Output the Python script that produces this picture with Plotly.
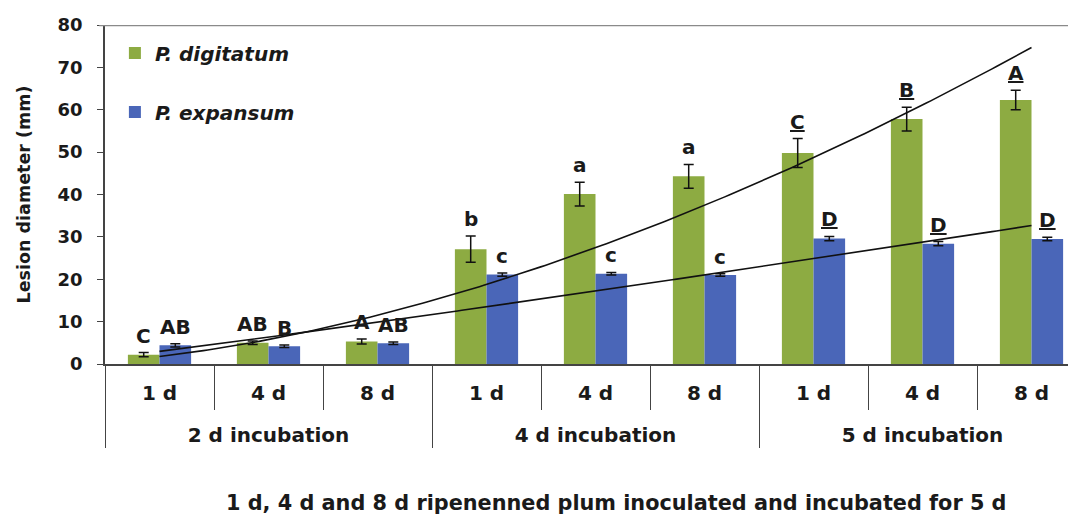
import numpy as np
import plotly.graph_objects as go

# ---- data ----
incubation = ["2 d incubation"] * 3 + ["4 d incubation"] * 3 + ["5 d incubation"] * 3
ripening = ["1 d", "4 d", "8 d"] * 3
digitatum = [2.2, 5.0, 5.3, 27.1, 40.1, 44.3, 49.8, 57.8, 62.3]
digitatum_err = [0.5, 0.4, 0.6, 3.1, 2.8, 2.8, 3.4, 2.8, 2.3]
expansum = [4.4, 4.2, 4.9, 21.1, 21.3, 21.0, 29.6, 28.4, 29.5]
expansum_err = [0.4, 0.3, 0.3, 0.4, 0.3, 0.3, 0.5, 0.5, 0.4]
digitatum_letters = ["C", "AB", "A", "b", "a", "a", "<u>C</u>", "<u>B</u>", "<u>A</u>"]
expansum_letters = ["AB", "B", "AB", "c", "c", "c", "<u>D</u>", "<u>D</u>", "<u>D</u>"]
y_ticks = [0, 10, 20, 30, 40, 50, 60, 70, 80]

GREEN = "#8DAB42"
BLUE = "#4A66B8"
FONT = "DejaVu Sans"
TXT = "#1a1a1a"
NBSP = "\u00a0"

n = len(digitatum)
idx = np.arange(1, n + 1)


def power_fit(x, y):
    b, ln_a = np.polyfit(np.log(x), np.log(y), 1)
    return np.exp(ln_a), b


fig = go.Figure()

err_style = dict(type="data", color="#111111", thickness=1.5, width=5, visible=True)

# level-1 labels get an empty second line so the level-2 labels sit lower
ripening_lbl = [r + "<br>" + NBSP for r in ripening]

fig.add_trace(go.Bar(
    x=[incubation, ripening_lbl], y=digitatum, name="P. digitatum",
    marker=dict(color=GREEN, line=dict(width=0)), legendgroup="g1",
    error_y=dict(array=digitatum_err, **err_style),
))
fig.add_trace(go.Bar(
    x=[incubation, ripening_lbl], y=expansum, name="P. expansum",
    marker=dict(color=BLUE, line=dict(width=0)), legendgroup="g2",
    error_y=dict(array=expansum_err, **err_style),
))

# power trendlines (fitted from the data, like the spreadsheet trendline)
xs = np.linspace(1, n, 200)
for series in (digitatum, expansum):
    a, b = power_fit(idx, np.array(series))
    fig.add_trace(go.Scatter(
        x=xs, y=a * xs ** b, xaxis="x2", mode="lines",
        line=dict(color="#111111", width=1.6), showlegend=False, hoverinfo="skip",
    ))

# significance letters
half = 0.145
letter_font = dict(family=FONT, size=20, color=TXT, weight="bold")
annotations = []
for i in range(n):
    for off, vals, errs, lets in ((-half, digitatum, digitatum_err, digitatum_letters),
                                  (half, expansum, expansum_err, expansum_letters)):
        annotations.append(dict(
            text=lets[i], xref="x2", yref="y", x=idx[i] + off, y=vals[i] + errs[i],
            xanchor="center", yanchor="bottom", yshift=3, showarrow=False,
            font=letter_font,
        ))

annotations.append(dict(
    text="1 d, 4 d and 8 d ripenenned plum inoculated and incubated for 5 d",
    xref="paper", yref="paper", x=(616 - 105) / 971, y=-(503 - 364) / 339,
    xanchor="center", yanchor="middle", showarrow=False,
    font=dict(family=FONT, size=20.8, color=TXT, weight="bold"),
))

x_end = -0.5 + 971 / 109

fig.update_layout(
    width=1068, height=509,
    margin=dict(l=97, r=0, t=17, b=153, autoexpand=False),
    paper_bgcolor="white", plot_bgcolor="white",
    font=dict(family=FONT, color=TXT, size=18, weight="bold"),
    barmode="group", bargap=0.42, bargroupgap=0,
    showlegend=True,
    legend=dict(
        x=0.0102, y=0.975, xanchor="left", yanchor="top",
        bgcolor="rgba(0,0,0,0)", traceorder="grouped", tracegroupgap=30,
        font=dict(family=FONT, size=20, color=TXT, weight="bold", style="italic"),
        itemwidth=30,
    ),
    xaxis=dict(
        type="multicategory", range=[-0.5, x_end], automargin=False,
        showline=True, linecolor="#444444", linewidth=1.5,
        ticks="outside", ticklen=44, tickcolor="#444444", tickwidth=1.2,
        ticklabelstandoff=10,
        showdividers=True, dividercolor="#444444", dividerwidth=1.2,
        tickfont=dict(family=FONT, size=20, color=TXT, weight="bold"),
        showgrid=False, zeroline=False,
    ),
    xaxis2=dict(
        overlaying="x", range=[0.5, x_end + 1], visible=False,
    ),
    yaxis=dict(
        range=[0, 80], tickvals=y_ticks, ticktext=[str(v) for v in y_ticks],
        automargin=False,
        showline=True, linecolor="#444444", linewidth=1.5,
        ticks="outside", ticklen=6, tickcolor="#444444", tickwidth=1.2,
        tickfont=dict(family=FONT, size=18, color=TXT, weight="bold"),
        ticklabelstandoff=11,
        showgrid=False, zeroline=False,
        title=dict(text="Lesion diameter (mm)", standoff=22,
                   font=dict(family=FONT, size=17.5, color=TXT, weight="bold")),
    ),
    shapes=[dict(type="line", xref="paper", yref="y", x0=-0.006, x1=1, y0=80, y1=80,
                 line=dict(color="#8a8a8a", width=2.5))],
    annotations=annotations,
)

fig.write_html("out.html")
